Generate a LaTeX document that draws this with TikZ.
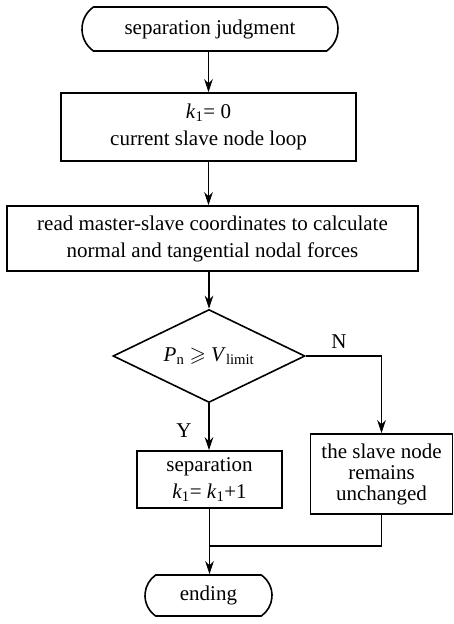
\documentclass[tikz,border=0pt]{standalone}
\usepackage{amssymb}
\usepackage{fontspec}
\setmainfont{Liberation Serif}
\usepackage{tikz}
\usepackage{xcolor}
\usetikzlibrary{arrows.meta,positioning,shapes,calc}
\usetikzlibrary{shapes.misc,shapes.geometric}
\definecolor{ink}{HTML}{000000}
\definecolor{paper}{HTML}{FFFFFF}

\tikzset{
  flowbox/.style={draw=ink,line width=1.6pt,rectangle,align=center,inner sep=0pt},
  termbox/.style={draw=ink,line width=1.6pt,rounded rectangle,rounded rectangle arc length=110,inner sep=0pt},
  testbox/.style={draw=ink,line width=1.6pt,diamond,aspect=2,inner sep=0pt},
  flow/.style={draw=ink,line width=1.1pt,-{Stealth[length=13pt,width=8.5pt,inset=4pt]}},
  joint/.style={draw=ink,line width=1.1pt},
  lbl/.style={font=\fontsize{21}{25}\selectfont}
}
\newcommand{\kone}{\textit{k}\textsubscript{1}}

\begin{document}
\begin{tikzpicture}[x=1pt,y=-1pt,font=\fontsize{21}{27}\selectfont]
      \useasboundingbox[fill=paper] (0,0) rectangle (453,624);
      \node[termbox,minimum width=256pt,minimum height=44pt] (start) at (210,29) {separation judgment};
      \node[flowbox,minimum width=295pt,minimum height=68pt] (loop) at (208.5,127) {\kone= 0\\current slave node loop};
      \node[flowbox,minimum width=411pt,minimum height=65pt] (read) at (212.5,238.5) {read master-slave coordinates to calculate\\normal and tangential nodal forces};
      \node[testbox,minimum width=192pt,minimum height=93pt] (judge) at (209,356) {\textit{P}\textsubscript{n} $\geqslant$ \textit{V}\textsubscript{limit}};
      \node[flowbox,minimum width=145pt,minimum height=57pt] (sep) at (209.5,479.5) {separation\\\kone= \kone+1};
      \node[flowbox,minimum width=142pt,minimum height=80pt,font=\fontsize{21}{21}\selectfont] (keep) at (381.5,474) {the slave node\\remains\\unchanged};
      \node[termbox,minimum width=127pt,minimum height=41pt] (ending) at (208.5,595.5) {ending};
      \node[lbl] (yes) at (184,431) {Y};
      \node[lbl] (no) at (339,342) {N};
      \coordinate (merge) at (209,546);
      \draw[flow] (start.south -| loop.north) -- (loop.north);
      \draw[flow] (loop.south) -- (loop.south |- read.north);
      \draw[flow] (read.south -| judge.north) -- (judge.north);
      \draw[flow] (judge.south) -- (judge.south |- sep.north);
      \draw[flow] (judge.east) -| (keep.north);
      \draw[flow] (sep.south) -- (sep.south |- ending.north);
      \draw[joint] (keep.south) |- (merge);
    \end{tikzpicture}
\end{document}
